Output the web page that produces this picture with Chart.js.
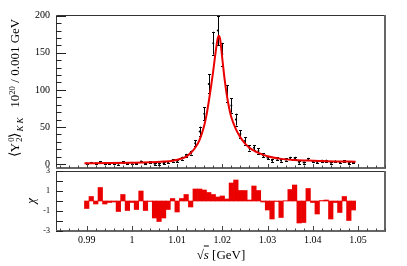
<!DOCTYPE html>
<html><head><meta charset="utf-8">
<script src="https://cdn.jsdelivr.net/npm/chart.js@4/dist/chart.umd.min.js"></script>
<style>
html,body{margin:0;padding:0;background:#fff;}
#wrap{position:relative;width:407px;height:266px;overflow:hidden;font-family:"Liberation Serif","DejaVu Serif",serif;color:#000;}
canvas{position:absolute;left:0;}
.lbl{position:absolute;white-space:nowrap;line-height:1;}
.br{font-family:"DejaVu Sans",sans-serif;font-weight:300;font-size:110%;}
.ss{display:inline-block;font-size:66%;line-height:0.85;vertical-align:-0.3em;text-align:left;margin-left:1px;}
.sb{font-size:68%;position:relative;top:0.4em;margin-left:1px;}
.sp{font-size:68%;position:relative;top:-0.5em;}
</style></head><body>
<div id="wrap">
<canvas id="c2" width="407" height="106" style="top:160px;width:407px;height:106px;"></canvas>
<canvas id="c1" width="407" height="180" style="top:0px;width:407px;height:180px;"></canvas>
<div id="ytitle" class="lbl" style="left:15px;top:88px;font-size:13px;transform:translate(-50%,-50%) rotate(-90deg);"><span class="br">⟨</span>Y<span class="ss">0<br>2</span><span class="br">⟩</span><span class="sb"><i>K K</i></span>&nbsp;&nbsp; 10<span class="sp">20</span> / 0.001 GeV</div>
<div id="chi" class="lbl" style="left:30px;top:201px;font-size:13px;transform:translate(-50%,-50%) rotate(-90deg);"><i>χ</i></div>
<div id="xtitle" class="lbl" style="left:221px;top:254px;font-size:13px;transform:translate(-50%,-50%);">√<span style="text-decoration:overline;font-style:italic;">s</span> [GeV]</div>
</div>
<script>
// ---- data ----
const masses = [0.990,0.991,0.992,0.993,0.994,0.995,0.996,0.997,0.998,0.999,
  1.000,1.001,1.002,1.003,1.004,1.005,1.006,1.007,1.008,1.009,
  1.010,1.011,1.012,1.013,1.014,1.015,1.016,1.017,1.018,1.019,
  1.020,1.021,1.022,1.023,1.024,1.025,1.026,1.027,1.028,1.029,
  1.030,1.031,1.032,1.033,1.034,1.035,1.036,1.037,1.038,1.039,
  1.040,1.041,1.042,1.043,1.044,1.045,1.046,1.047,1.048,1.049];
const yields = [0.6,1.8,1.0,2.8,1.0,1.2,1.4,0.3,2.6,0.7,
  1.7,0.9,3.4,0.9,2.3,0.5,0.4,1.2,2.6,5.0,
  4.3,8.0,11.5,15.5,28,44,68,108,163,180,
  148,95,79,60,40.5,31,21.7,22,17.5,12,
  8.5,5.0,7.6,4.8,6.3,8.2,8.3,2.0,2.0,7.0,
  4.3,2.6,4.4,4.4,1.8,3.5,2.3,4.0,1.2,2.2];
const yieldErr = [0.8,0.9,0.8,1.0,0.8,0.9,0.9,0.9,1.0,1.0,
  1.0,1.0,1.1,1.2,1.2,1.3,1.5,1.4,1.5,1.6,
  1.8,2.0,2.3,2.6,4,6.5,8.8,12.8,15.4,20,
  15.4,11,9.7,8,4.8,5,3.5,3.5,3.5,2.5,
  2.2,2.0,1.8,1.6,1.6,1.6,1.5,1.5,1.4,1.4,
  1.3,1.3,1.3,1.3,1.2,1.2,1.2,1.2,1.1,1.1];
const chiVals = [-0.75,0.45,-0.3,1.35,-0.3,-0.15,-0.1,-1.05,0.65,-0.95,
  -0.15,-0.85,1.0,-0.95,-0.05,-1.7,-2.05,-1.7,-0.85,0.25,
  -1.1,0.25,0.65,-0.6,1.2,1.2,1.1,0.85,0.65,0.4,
  0.5,0.2,1.8,2.1,1.05,1.05,0.1,1.5,1.05,-0.1,
  -0.9,-1.8,-0.05,-1.65,0.03,1.15,1.6,-2.2,-2.15,1.25,
  -0.15,-1.3,0.05,0.1,-1.8,-0.15,-1.15,0.45,-1.95,-0.9];
const fitMass = [0.9895,0.995,1.000,1.004,1.007,1.009,1.011,1.012,1.013,1.014,1.015,1.016,1.0165,1.017,1.0175,1.018,1.0185,1.019,1.0192,1.0195,1.020,1.0205,1.021,1.0215,1.022,1.023,1.024,1.025,1.026,1.027,1.028,1.030,1.033,1.036,1.040,1.045,1.0495];
const fitYield = [1.2,1.4,1.8,2.4,3.4,4.6,7.5,10,15,22,33,52,66,84,104,126,150,170,173,169,142,115,93,76,63,47,36,28,22,18,15,10.5,7,5.5,4.5,3.6,3.2];
const xTickValues = [0.99,1.00,1.01,1.02,1.03,1.04,1.05];
const xTickLabels = ['0.99','1','1.01','1.02','1.03','1.04','1.05'];
const yTopTicks = [0,50,100,150,200];
const yTopLabels = ['0','50','100','150','200'];
const chiTicks = [-3,-2,-1,0,1,2,3];
const chiLabels = ['-3','-2','-1','0','1','2','3'];

const X_MIN = 0.9832, X_MAX = 1.0560;
const SERIF = "'Liberation Serif','DejaVu Serif',serif";
const RED = 'rgb(235,0,0)';

function drawFrame(ctx, a){
  ctx.save();
  ctx.strokeStyle = '#333'; ctx.lineWidth = 1;
  ctx.beginPath();
  ctx.moveTo(a.left + 0.5, a.bottom); ctx.lineTo(a.left + 0.5, a.top + 0.5); ctx.lineTo(a.right, a.top + 0.5);
  ctx.stroke();
  ctx.strokeStyle = '#666'; ctx.lineWidth = 2;
  ctx.beginPath();
  ctx.moveTo(a.right, a.top); ctx.lineTo(a.right, a.bottom); ctx.lineTo(a.left, a.bottom);
  ctx.stroke();
  ctx.restore();
}
function xTicks(ctx, chart, minorLen, majorLen){
  const xs = chart.scales.x, a = chart.chartArea;
  ctx.save(); ctx.strokeStyle = '#444'; ctx.lineWidth = 1;
  ctx.beginPath();
  for (let k = Math.ceil(X_MIN / 0.002 - 1e-6); k <= Math.floor(X_MAX / 0.002 + 1e-6); k++) {
    const v = k * 0.002;
    const isMajor = Math.abs(v * 100 - Math.round(v * 100)) < 1e-6;
    const px = Math.round(xs.getPixelForValue(v)) + 0.5;
    ctx.moveTo(px, a.bottom); ctx.lineTo(px, a.bottom - (isMajor ? majorLen : minorLen));
  }
  ctx.stroke(); ctx.restore();
}

const topPlugin = {
  id: 'topPlugin',
  beforeDatasetsDraw(chart){
    const ctx = chart.ctx, xs = chart.scales.x, ys = chart.scales.y;
    ctx.save(); ctx.strokeStyle = '#000'; ctx.lineWidth = 1;
    ctx.beginPath();
    for (let i = 0; i < masses.length; i++) {
      const px = Math.round(xs.getPixelForValue(masses[i])) + 0.5;
      const y1 = ys.getPixelForValue(yields[i] - yieldErr[i]);
      const y2 = ys.getPixelForValue(yields[i] + yieldErr[i]);
      ctx.moveTo(px, y1); ctx.lineTo(px, y2);
      ctx.moveTo(px - 1.5, Math.round(y1) + 0.5); ctx.lineTo(px + 1.5, Math.round(y1) + 0.5);
      ctx.moveTo(px - 1.5, Math.round(y2) + 0.5); ctx.lineTo(px + 1.5, Math.round(y2) + 0.5);
    }
    ctx.stroke(); ctx.restore();
  },
  afterDraw(chart){
    const ctx = chart.ctx, a = chart.chartArea, ys = chart.scales.y;
    drawFrame(ctx, a);
    xTicks(ctx, chart, 2.5, 4);
    ctx.save(); ctx.strokeStyle = '#222'; ctx.lineWidth = 1; ctx.beginPath();
    for (let v = 0; v <= 200; v += 10) {
      const py = Math.round(ys.getPixelForValue(v)) + 0.5;
      ctx.moveTo(a.left, py); ctx.lineTo(a.left + (v % 50 === 0 ? 10 : 5.5), py);
    }
    ctx.stroke(); ctx.restore();
  }
};

const botPlugin = {
  id: 'botPlugin',
  afterDraw(chart){
    const ctx = chart.ctx, a = chart.chartArea, ys = chart.scales.y;
    drawFrame(ctx, a);
    xTicks(ctx, chart, 2.5, 5);
    ctx.save(); ctx.strokeStyle = '#222'; ctx.lineWidth = 1; ctx.beginPath();
    for (const v of chiTicks) {
      const py = Math.round(ys.getPixelForValue(v)) + 0.5;
      ctx.moveTo(a.left, py); ctx.lineTo(a.left + 7, py);
    }
    ctx.stroke(); ctx.restore();
  }
};

const commonY = (ticks, labels, size) => ({
  type: 'linear',
  afterFit(s){ s.width = 56; },
  afterBuildTicks(s){ s.ticks = ticks.map(v => ({value: v})); },
  grid: {display: false, drawTicks: false},
  border: {display: false},
  ticks: {padding: 6, color: '#000', font: {family: SERIF, size: size},
    callback: (v, i) => labels[i]}
});

new Chart(document.getElementById('c1'), {
  type: 'line',
  data: {
    datasets: [
      {type: 'line', data: fitMass.map((m, i) => ({x: m, y: fitYield[i]})),
        borderColor: RED, borderWidth: 2, pointRadius: 0, cubicInterpolationMode: 'monotone', fill: false},
      {type: 'scatter', data: masses.map((m, i) => ({x: m, y: yields[i]})),
        backgroundColor: '#000', borderColor: '#000', pointRadius: 1, borderWidth: 0}
    ]
  },
  options: {
    responsive: false, animation: false, devicePixelRatio: 1,
    layout: {padding: {left: 0, right: 22, top: 15, bottom: 10}},
    plugins: {legend: {display: false}, tooltip: {enabled: false}},
    scales: {
      x: {type: 'linear', min: X_MIN, max: X_MAX, display: false},
      y: Object.assign(commonY(yTopTicks, yTopLabels, 10), {min: -5.3, max: 201})
    }
  },
  plugins: [topPlugin]
});

new Chart(document.getElementById('c2'), {
  type: 'bar',
  data: {
    datasets: [{data: masses.map((m, i) => ({x: m, y: chiVals[i]})),
      backgroundColor: RED, borderColor: RED, borderWidth: 0,
      barPercentage: 1.0, categoryPercentage: 1.0}]
  },
  options: {
    responsive: false, animation: false, devicePixelRatio: 1,
    layout: {padding: {left: 0, right: 22, top: 11, bottom: 0}},
    plugins: {legend: {display: false}, tooltip: {enabled: false}},
    scales: {
      x: {type: 'linear', min: X_MIN, max: X_MAX, offset: false,
        afterFit(s){ s.height = 35; },
        afterBuildTicks(s){ s.ticks = xTickValues.map(v => ({value: v})); },
        grid: {display: false, drawTicks: false}, border: {display: false},
        ticks: {padding: 3, color: '#000', maxRotation: 0, autoSkip: false,
          font: {family: SERIF, size: 10}, callback: (v, i) => xTickLabels[i]}},
      y: Object.assign(commonY(chiTicks, chiLabels, 8), {min: -3, max: 3})
    }
  },
  plugins: [botPlugin]
});
</script>
</body></html>
